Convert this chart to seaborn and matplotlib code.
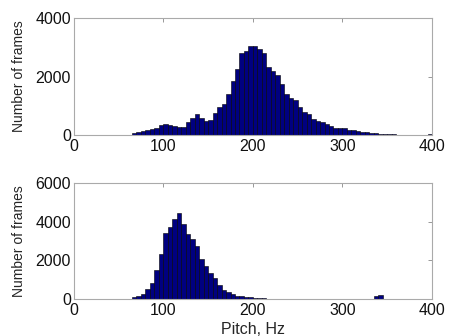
import matplotlib
matplotlib.use("Agg")
import matplotlib.pyplot as plt
import numpy as np
import pandas as pd
import seaborn as sns

# histogram bins (5 Hz wide), left edges from 65 Hz
bin_width = 5
left_edges = np.arange(65, 400, bin_width)

# top panel counts
counts_top = [80, 115, 150, 170, 205, 250, 330, 390, 355, 310,
              260, 285, 435, 580, 720, 570, 480, 500, 740, 970,
              1050, 1420, 1850, 2275, 2800, 2860, 3030, 3050, 2960, 2820,
              2340, 2200, 2060, 1750, 1400, 1280, 1200, 970, 800, 710,
              560, 480, 435, 380, 310, 240, 230, 230, 170, 170,
              125, 100, 90, 70, 55, 45, 35, 25, 20, 18,
              15, 15, 15, 12, 12, 12, 30]

# bottom panel counts
counts_bottom = [85, 170, 260, 520, 830, 1520, 2340, 3410, 3710, 4140,
                 4450, 3880, 3380, 3100, 2760, 2070, 1720, 1345, 1085, 705,
                 480, 345, 240, 170, 140, 120, 100, 70, 50, 35,
                 20, 10, 8, 6, 5, 4, 3, 2, 2, 2,
                 2, 2, 2, 2, 2, 2, 2, 2, 2, 2,
                 2, 2, 2, 2, 140, 190, 0, 0, 0, 0,
                 0, 0, 0, 0, 0, 0, 0]

x_ticks = [0, 100, 200, 300, 400]
y_ticks_top = [0, 2000, 4000]
y_ticks_bottom = [0, 2000, 4000, 6000]

sns.set_style("white")
plt.rcParams['font.family'] = ['Liberation Sans', 'DejaVu Sans']

fig = plt.figure(figsize=(4.5, 3.36), dpi=100)
ax1 = fig.add_axes([0.164, 0.598, 0.796, 0.348])
ax2 = fig.add_axes([0.164, 0.110, 0.796, 0.345])

centers = left_edges + bin_width / 2
edges = list(np.append(left_edges, left_edges[-1] + bin_width))

for ax, counts, yt in [(ax1, counts_top, y_ticks_top),
                       (ax2, counts_bottom, y_ticks_bottom)]:
    df = pd.DataFrame({'pitch': centers, 'n': counts})
    sns.histplot(data=df, x='pitch', weights='n', bins=edges, ax=ax,
                 color='#000080', edgecolor='black', linewidth=0.4, alpha=1)
    ax.set_xlim(0, 400)
    ax.set_ylim(0, yt[-1])
    ax.set_xticks(x_ticks)
    ax.set_yticks(yt)
    ax.set_ylabel('Number of frames', fontsize=10)
    ax.yaxis.set_label_coords(-0.134, 0.5)
    ax.set_xlabel('')
    ax.tick_params(direction='in', length=3, width=0.6, color='#888888',
                   labelsize=11.5, labelcolor='#111111', top=True, right=True)
    ax.tick_params(axis='y', pad=2)
    ax.tick_params(axis='x', pad=3)
    for s in ax.spines.values():
        s.set_color('#aaaaaa')
        s.set_linewidth(0.8)

ax2.set_xlabel('Pitch, Hz', fontsize=11.5, labelpad=3)

fig.savefig('out.png', dpi=100)
